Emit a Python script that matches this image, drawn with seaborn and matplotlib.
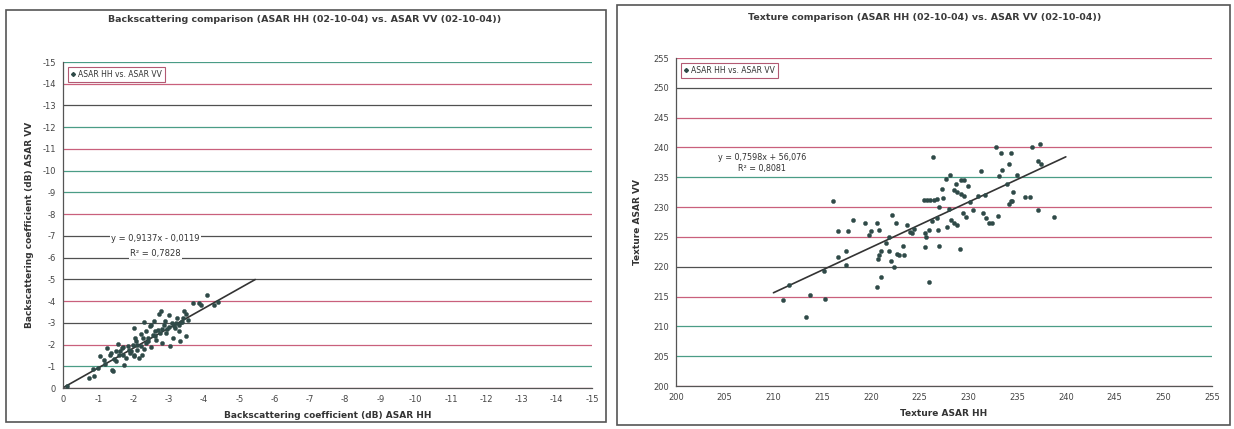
import numpy as np
import matplotlib
matplotlib.use('Agg')
import matplotlib.pyplot as plt
import seaborn as sns
import pandas as pd
from matplotlib.patches import Rectangle

sns.set_style("white")
plt.rcParams['font.family'] = ['DejaVu Sans']
plt.rcParams['axes.unicode_minus'] = False

# Backscattering (dB) - ASAR HH (x) vs ASAR VV (y)
bs_hh = [-0.11, -0.75, -0.88, -0.84, -1.04, -1.17, -1.26, -1.32, -1.40, -1.43,
         -1.49, -1.51, -1.55, -1.66, -1.71, -1.73, -1.80, -1.85, -1.94, -1.99,
         -2.02, -2.05, -2.11, -2.16, -2.02, -2.22, -2.25, -2.27, -2.30, -2.36,
         -2.41, -2.48, -2.50, -2.56, -2.59, -2.64, -2.70, -2.72, -2.78, -2.82,
         -2.86, -2.93, -3.01, -3.04, -3.09, -3.12, -3.18, -3.23, -3.29, -3.31,
         -3.38, -3.42, -3.49, -3.54, -3.68, -3.85, -3.91, -4.08, -4.28, -4.39,
         -1.60, -1.90, -2.10, -2.30, -2.40, -2.60, -2.80, -3.00, -3.20, -3.40,
         -2.20, -1.70, -1.20, -2.00, -2.50, -2.90, -3.30, -3.50, -1.00, -1.35,
         -1.45, -1.62, -1.88, -2.08, -2.35, -2.62, -2.75, -2.95, -3.15, -3.36]
bs_vv = [-0.08, -0.46, -0.54, -0.89, -1.45, -1.30, -1.83, -1.53, -0.84, -0.76,
         -1.68, -1.22, -2.02, -1.83, -1.53, -1.07, -1.38, -1.91, -1.68, -1.99,
         -1.45, -2.29, -1.76, -1.38, -2.75, -1.91, -1.53, -2.32, -3.03, -2.60,
         -2.14, -2.83, -1.87, -2.45, -3.06, -2.22, -2.68, -3.40, -3.52, -2.06,
         -2.91, -2.52, -3.36, -1.91, -2.98, -2.29, -2.75, -3.21, -2.91, -2.14,
         -3.03, -3.52, -2.37, -3.13, -3.90, -3.90, -3.82, -4.28, -3.82, -3.94,
         -1.50, -1.60, -2.00, -1.80, -2.30, -2.60, -2.70, -2.80, -3.00, -3.20,
         -2.50, -1.90, -1.10, -1.50, -2.90, -3.10, -2.60, -3.40, -0.90, -1.60,
         -1.35, -1.72, -1.75, -2.18, -2.05, -2.40, -2.55, -2.70, -2.85, -3.05]

# Texture - ASAR HH (x) vs ASAR VV (y)
tx_hh = [211.0, 211.6, 213.3, 213.75, 215.3, 215.2, 216.6, 216.6, 217.4, 217.4,
         217.6, 218.2, 219.4, 219.8, 220.0, 220.6, 221.0, 220.6, 220.8, 220.7,
         220.8, 221.0, 221.5, 221.9, 222.1, 222.4, 221.9, 222.2, 222.6, 222.7,
         222.9, 223.3, 223.4, 223.7, 224.0, 224.2, 224.4, 225.6, 225.6, 225.7,
         226.0, 226.0, 226.3, 226.8, 226.9, 227.0, 227.8, 228.2, 228.5, 228.8,
         229.1, 229.8, 232.1, 232.4, 238.8, 216.1, 226.4, 225.4, 225.8, 226.1,
         226.5, 226.8, 227.4, 227.7, 228.1, 229.2, 227.3, 228.5, 228.8, 229.2,
         229.6, 230.2, 231.0, 231.7, 231.3, 232.8, 233.3, 234.4, 234.2, 233.1,
         233.5, 234.6, 234.4, 234.2, 236.3, 236.5, 237.3, 237.1, 237.5, 237.1,
         235.8, 235.0, 229.5, 230.5, 228.0, 227.0, 231.5, 230.0, 229.6, 228.7,
         231.8, 233.0, 234.5, 234.0]
tx_vv = [214.5, 216.9, 211.5, 215.2, 214.6, 219.3, 221.6, 226.0, 222.6, 220.3,
         226.0, 227.9, 227.4, 225.4, 226.0, 216.6, 218.2, 227.3, 226.1, 221.3,
         221.9, 222.7, 223.9, 222.6, 220.9, 219.9, 225.0, 228.7, 227.4, 222.2,
         221.9, 223.5, 221.9, 227.0, 225.9, 225.6, 226.4, 223.3, 225.6, 225.0,
         217.4, 226.1, 227.6, 228.1, 226.1, 223.5, 226.7, 227.8, 227.3, 227.0,
         223.0, 228.4, 227.4, 227.4, 228.4, 231.1, 238.4, 231.2, 231.2, 231.2,
         231.2, 231.3, 231.5, 234.7, 235.3, 234.6, 233.1, 232.8, 232.5, 232.2,
         231.9, 230.9, 231.8, 232.1, 236.0, 240.1, 239.0, 239.0, 237.3, 235.2,
         236.2, 232.5, 231.1, 230.6, 231.7, 240.1, 240.6, 237.8, 237.3, 229.5,
         231.7, 235.4, 229.0, 229.5, 229.7, 230.0, 229.0, 233.5, 234.5, 233.8,
         228.2, 228.5, 231.0, 233.8]

# Trendline coefficients and extents (as reported in the chart)
bs_slope, bs_icpt, bs_r2 = 0.9137, -0.0119, 0.7828
bs_trend_x = [0.0, -5.45]
tx_slope, tx_icpt, tx_r2 = 0.7598, 56.076, 0.8081
tx_trend_x = [210.0, 240.0]

bs_ticks = list(range(0, -16, -1))
tx_ticks = list(range(200, 256, 5))

TEAL = "#4a9c86"
PINK = "#c9607c"
DARK = "#505050"
bs_grid_colors = [PINK, TEAL, PINK, DARK, PINK, DARK, DARK, DARK,
                  PINK, TEAL, TEAL, PINK, TEAL, DARK, PINK, TEAL]
tx_grid_colors = [PINK, TEAL, TEAL, PINK, DARK, PINK, PINK, TEAL,
                  PINK, PINK, DARK, PINK]

MARK = "#2f4a48"
W, H = 1234, 429
fig = plt.figure(figsize=(W / 100, H / 100), dpi=100)

# panel frames
for (x0, y0, x1, y1) in [(6, 10, 606, 422), (617, 5, 1230, 425)]:
    fig.patches.append(Rectangle((x0 / W, 1 - y1 / H), (x1 - x0) / W, (y1 - y0) / H,
                                 transform=fig.transFigure, fill=False,
                                 edgecolor="#555555", linewidth=1.2))

ax1 = fig.add_axes([63 / W, 1 - 388 / H, (592 - 63) / W, (388 - 62) / H])
ax2 = fig.add_axes([676 / W, 1 - 386 / H, (1212 - 676) / W, (386 - 58) / H])


def style_axis(ax, ticks, grid_colors):
    for t, c in zip(ticks, grid_colors):
        ax.axhline(t, color=c, lw=0.9, zorder=0)
    ax.set_xticks(ticks)
    ax.set_yticks(ticks)
    ax.tick_params(axis='both', labelsize=6, colors="#444444", length=2, pad=3)
    for s in ['top', 'right']:
        ax.spines[s].set_visible(False)
    for s in ['left', 'bottom']:
        ax.spines[s].set_color("#555555")
        ax.spines[s].set_linewidth(0.9)


# left: backscattering
df_bs = pd.DataFrame({'hh': bs_hh, 'vv': bs_vv})
sns.scatterplot(data=df_bs, x='hh', y='vv', ax=ax1, marker='o', s=9,
                color=MARK, edgecolor=MARK, linewidth=0.3, zorder=3)
tx = np.array(bs_trend_x)
ax1.plot(tx, bs_slope * tx + bs_icpt, color="#333333", lw=1.2, zorder=2)
ax1.set_xlim(0, -15)
ax1.set_ylim(0, -15)
style_axis(ax1, bs_ticks, bs_grid_colors)
ax1.set_xlabel('Backscattering coefficient (dB) ASAR HH', fontsize=6.5,
               fontweight='bold', color="#333333", labelpad=5)
ax1.set_ylabel('Backscattering coefficient (dB) ASAR VV', fontsize=6.5,
               fontweight='bold', color="#333333", labelpad=6)
ax1.text(0.175, 0.45, f"y = {bs_slope:.4f}x - {abs(bs_icpt):.4f}".replace('.', ','),
         transform=ax1.transAxes, ha='center', fontsize=6, color="#333333",
         bbox=dict(facecolor='white', edgecolor='none', pad=1))
ax1.text(0.175, 0.405, f"R² = {bs_r2:.4f}".replace('.', ','),
         transform=ax1.transAxes, ha='center', fontsize=6, color="#333333",
         bbox=dict(facecolor='white', edgecolor='none', pad=1))
fig.text(305 / W, 1 - 20 / H,
         'Backscattering comparison (ASAR HH (02-10-04) vs. ASAR VV (02-10-04))',
         ha='center', va='center', fontsize=6.8, fontweight='bold', color="#3a3a3a")

# right: texture
df_tx = pd.DataFrame({'hh': tx_hh, 'vv': tx_vv})
sns.scatterplot(data=df_tx, x='hh', y='vv', ax=ax2, marker='o', s=9,
                color=MARK, edgecolor=MARK, linewidth=0.3, zorder=3)
tx2 = np.array(tx_trend_x)
ax2.plot(tx2, tx_slope * tx2 + tx_icpt, color="#333333", lw=1.2, zorder=2)
ax2.set_xlim(200, 255)
ax2.set_ylim(200, 255)
style_axis(ax2, tx_ticks, tx_grid_colors)
ax2.set_xlabel('Texture ASAR HH', fontsize=6.5, fontweight='bold',
               color="#333333", labelpad=5)
ax2.set_ylabel('Texture ASAR VV', fontsize=6.5, fontweight='bold',
               color="#333333", labelpad=8)
ax2.text(0.16, 0.69, f"y = {tx_slope:.4f}x + {tx_icpt:.3f}".replace('.', ','),
         transform=ax2.transAxes, ha='center', fontsize=5.8, color="#333333")
ax2.text(0.16, 0.655, f"R² = {tx_r2:.4f}".replace('.', ','),
         transform=ax2.transAxes, ha='center', fontsize=5.8, color="#333333")
fig.text(925 / W, 1 - 17 / H,
         'Texture comparison (ASAR HH (02-10-04) vs. ASAR VV (02-10-04))',
         ha='center', va='center', fontsize=6.8, fontweight='bold', color="#3a3a3a")

# legends
for ax, ec in [(ax1, "#a03050"), (ax2, "#a03050")]:
    ax.legend(handles=[plt.Line2D([], [], marker='D', ls='', ms=2, color=MARK)],
              labels=['ASAR HH vs. ASAR VV'], loc='upper left',
              bbox_to_anchor=(0.003, 0.995), fontsize=5.5, frameon=True,
              fancybox=False, edgecolor=ec, handlelength=0.6, handletextpad=0.3,
              borderpad=0.35, labelcolor="#333333")
    ax.get_legend().get_frame().set_linewidth(0.8)

fig.savefig('out.png', dpi=100)
